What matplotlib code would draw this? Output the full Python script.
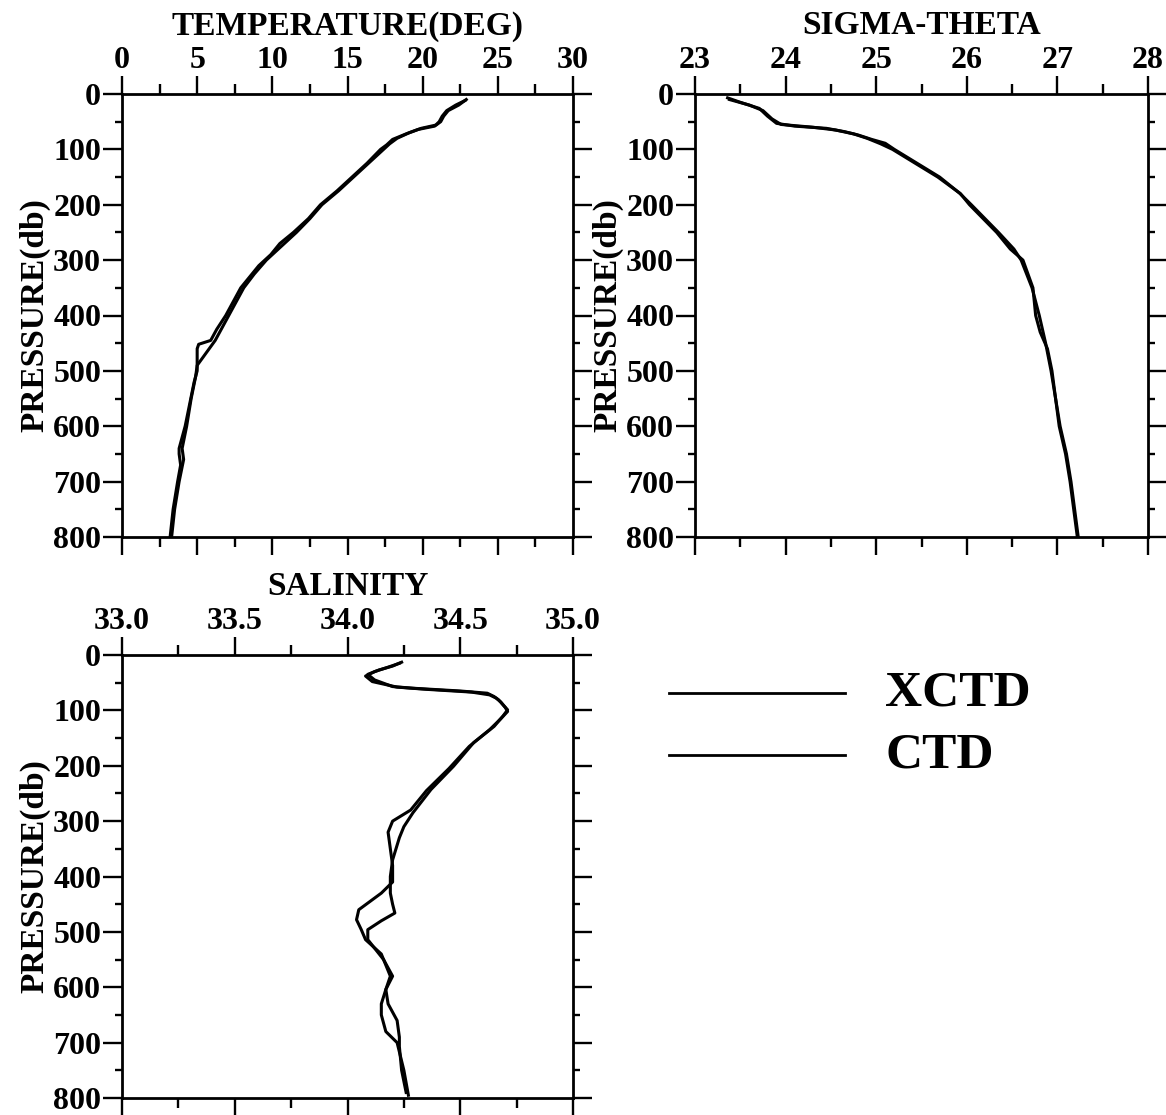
import numpy as np
import matplotlib
matplotlib.use('Agg')
import matplotlib.pyplot as plt
from matplotlib.ticker import MultipleLocator, FormatStrFormatter

plt.rcParams['font.family'] = ['Liberation Serif', 'DejaVu Serif']
plt.rcParams['font.weight'] = 'bold'

# Temperatura (grados) vs presión (db)
p_temp_xctd = [10, 20, 30, 40, 50, 56, 62, 70, 80, 90, 100, 125, 150, 175, 200, 225, 250, 275, 300,
               325, 350, 375, 400, 425, 445, 460, 475, 490, 510, 550, 600, 640, 660, 700, 750, 800]
t_xctd = [22.9, 22.4, 21.7, 21.4, 21.2, 20.9, 19.9, 19.1, 18.3, 17.8, 17.4, 16.4, 15.4, 14.4, 13.3,
          12.5, 11.6, 10.6, 9.6, 8.8, 8.1, 7.6, 7.1, 6.6, 6.2, 5.8, 5.4, 5.0, 4.9, 4.6, 4.3, 4.0,
          4.1, 3.8, 3.5, 3.3]
p_temp_ctd = [12, 20, 30, 40, 50, 58, 64, 72, 82, 92, 100, 125, 150, 175, 200, 225, 250, 270, 290,
              310, 330, 350, 375, 400, 425, 445, 452, 460, 480, 500, 520, 560, 600, 640, 650, 670,
              700, 750, 800]
t_ctd = [22.8, 22.2, 21.6, 21.3, 21.1, 20.8, 19.7, 18.9, 18.0, 17.6, 17.2, 16.3, 15.3, 14.3, 13.2,
         12.4, 11.4, 10.5, 9.9, 9.1, 8.5, 7.9, 7.4, 6.9, 6.3, 5.9, 5.1, 5.0, 5.0, 5.0, 4.8, 4.5,
         4.2, 3.8, 3.8, 3.9, 3.7, 3.4, 3.2]

# Sigma-theta
p_sig_xctd = [7, 15, 26, 40, 53, 58, 62, 68, 74, 82, 89, 100, 125, 150, 179, 200, 250, 280, 300,
              350, 400, 450, 500, 550, 600, 650, 700, 750, 800]
sig_xctd = [23.36, 23.5, 23.71, 23.8, 23.9, 24.1, 24.45, 24.65, 24.8, 24.95, 25.1, 25.2, 25.45,
            25.7, 25.92, 26.05, 26.35, 26.52, 26.6, 26.72, 26.8, 26.87, 26.93, 26.98, 27.03,
            27.1, 27.15, 27.19, 27.23]
p_sig_ctd = [10, 20, 30, 45, 55, 60, 65, 72, 80, 90, 100, 125, 150, 180, 200, 250, 280, 300, 350,
             400, 430, 460, 500, 550, 600, 650, 700, 750, 800]
sig_ctd = [23.38, 23.6, 23.75, 23.85, 23.95, 24.3, 24.55, 24.75, 24.9, 25.05, 25.18, 25.43, 25.68,
           25.93, 26.03, 26.33, 26.48, 26.62, 26.73, 26.76, 26.81, 26.89, 26.94, 26.98, 27.02,
           27.09, 27.14, 27.18, 27.22]

# Salinidad
p_sal_xctd = [13, 20, 27, 35, 45, 57, 60, 65, 69, 75, 81, 90, 99, 110, 129, 158, 201, 243, 285,
              310, 330, 370, 400, 430, 450, 466, 480, 496, 514, 550, 580, 604, 630, 660, 690,
              707, 750, 790]
sal_xctd = [34.24, 34.2, 34.14, 34.09, 34.12, 34.2, 34.29, 34.5, 34.62, 34.65, 34.67, 34.69,
            34.71, 34.69, 34.65, 34.56, 34.47, 34.37, 34.29, 34.25, 34.23, 34.2, 34.19, 34.19,
            34.2, 34.21, 34.15, 34.09, 34.09, 34.16, 34.2, 34.17, 34.18, 34.22, 34.23, 34.23,
            34.24, 34.26]
p_sal_ctd = [15, 22, 30, 38, 48, 58, 62, 67, 72, 78, 85, 95, 102, 115, 135, 165, 205, 245, 280,
             300, 320, 350, 380, 410, 430, 445, 460, 478, 495, 514, 540, 580, 604, 630, 650,
             680, 700, 750, 795]
sal_ctd = [34.23, 34.18, 34.12, 34.08, 34.11, 34.22, 34.35, 34.55, 34.63, 34.66, 34.68, 34.7,
           34.71, 34.68, 34.63, 34.54, 34.45, 34.35, 34.28, 34.2, 34.18, 34.19, 34.2, 34.2,
           34.15, 34.1, 34.05, 34.04, 34.06, 34.08, 34.15, 34.19, 34.17, 34.15, 34.15, 34.17,
           34.22, 34.25, 34.27]

W, H = 1166, 1115
fig = plt.figure(figsize=(W / 100, H / 100), dpi=100)


def px_axes(left, top, right, bottom):
    return fig.add_axes([left / W, 1 - bottom / H, (right - left) / W, (bottom - top) / H])


def style(ax, title, xlim, xmajor, xminor, fmt):
    ax.set_xlim(*xlim)
    ax.set_ylim(800, 0)
    ax.xaxis.set_major_locator(MultipleLocator(xmajor))
    ax.xaxis.set_minor_locator(MultipleLocator(xminor))
    ax.xaxis.set_major_formatter(FormatStrFormatter(fmt))
    ax.yaxis.set_major_locator(MultipleLocator(100))
    ax.yaxis.set_minor_locator(MultipleLocator(50))
    ax.tick_params(which='both', direction='out', width=1.7, top=True, bottom=True,
                   left=True, right=True, labeltop=True, labelbottom=False,
                   labelleft=True, labelright=False, labelsize=23, pad=1)
    ax.tick_params(axis='x', which='major', length=13)
    ax.tick_params(axis='x', which='minor', length=7)
    ax.tick_params(axis='y', which='major', length=14)
    ax.tick_params(axis='y', which='minor', length=5)
    for s in ax.spines.values():
        s.set_linewidth(2.0)
    for lab in ax.get_xticklabels() + ax.get_yticklabels():
        lab.set_fontweight('bold')
    ax.set_title(title, fontsize=24, fontweight='bold', pad=8)
    ax.set_ylabel('PRESSURE(db)', fontsize=24, fontweight='bold', labelpad=2)


ax1 = px_axes(122, 94, 573, 537)
ax1.plot(t_xctd, p_temp_xctd, color='black', lw=2.2)
ax1.plot(t_ctd, p_temp_ctd, color='black', lw=2.2)
style(ax1, 'TEMPERATURE(DEG)', (0, 30), 5, 2.5, '%d')

ax2 = px_axes(695, 94, 1148, 537)
ax2.plot(sig_xctd, p_sig_xctd, color='black', lw=2.2)
ax2.plot(sig_ctd, p_sig_ctd, color='black', lw=2.2)
style(ax2, 'SIGMA-THETA', (23, 28), 1, 0.5, '%d')

ax3 = px_axes(122, 655, 573, 1098)
ax3.plot(sal_xctd, p_sal_xctd, color='black', lw=2.2)
ax3.plot(sal_ctd, p_sal_ctd, color='black', lw=2.2)
style(ax3, 'SALINITY', (33, 35), 0.5, 0.25, '%.1f')

# Leyenda dibujada a mano
fig.add_artist(plt.Line2D([669 / W, 845 / W], [1 - 693 / H] * 2, color='black', lw=2.0))
fig.add_artist(plt.Line2D([669 / W, 845 / W], [1 - 755 / H] * 2, color='black', lw=2.0))
fig.text(885 / W, 1 - 693 / H, 'XCTD', fontsize=37, fontweight='bold', va='center')
fig.text(885 / W, 1 - 755 / H, 'CTD', fontsize=37, fontweight='bold', va='center')

fig.savefig('out.png', dpi=100)
